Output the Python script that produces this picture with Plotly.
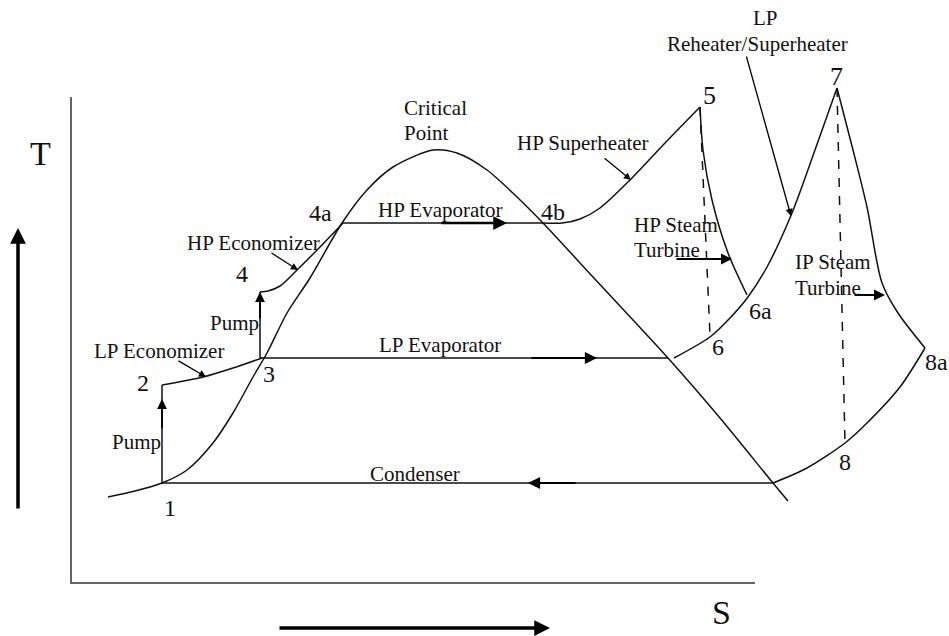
import plotly.graph_objects as go

# saturation dome (pixel-space T-S sketch, y grows downward)
dome_x = [108, 135, 162, 187, 213, 233, 253, 267, 287, 310, 342, 367, 393, 433, 457, 487, 517, 543, 593, 668, 720, 773, 788]
dome_y = [497, 491, 483, 470, 443, 413, 377, 353, 313, 278, 223, 190, 167, 150, 153, 170, 197, 223, 277, 358, 418, 483, 501]

# cycle segments
pump1_x, pump1_y = [162, 162], [483, 385]
lpecon_x, lpecon_y = [162, 203, 233, 262], [385, 377, 368, 358]
pump2_x, pump2_y = [260, 260], [358, 292]
hpecon_x, hpecon_y = [260, 268, 280, 297, 320, 343], [292, 291, 286, 270, 247, 223]
hpevap_x, hpevap_y = [343, 543], [223, 223]
hpsh_x = [543, 562, 580, 600, 630, 665, 700]
hpsh_y = [223, 223, 219, 208, 180, 143, 107]
hpt_x, hpt_y = [700, 703, 712, 728, 747], [107, 150, 200, 253, 295]
lpevap_x, lpevap_y = [260, 668], [358, 358]
reheat_x = [674, 710, 730, 748, 767, 792, 815, 837]
reheat_y = [358, 337, 318, 297, 267, 213, 150, 88]
ipt_x, ipt_y = [837, 853, 867, 882, 898, 925], [88, 150, 207, 283, 313, 348]
exh_x, exh_y = [925, 900, 867, 845, 807, 773], [348, 387, 423, 443, 468, 483]
cond_x, cond_y = [162, 773], [483, 483]
isen1_x, isen1_y = [700, 710], [107, 336]
isen2_x, isen2_y = [837, 845], [88, 443]
axis_x, axis_y = [71, 71, 755], [97, 583, 583]

# arrows: (tail x, tail y, head x, head y, width)
arrows = [
    (18, 510, 18, 228, 3.5),
    (278, 628, 550, 628, 3.5),
    (162, 430, 162, 399, 1.8),
    (260, 320, 260, 292, 1.8),
    (177, 360, 206, 377, 1.3),
    (270, 252, 298, 270, 1.3),
    (440, 223, 507, 223, 2.5),
    (530, 358, 597, 358, 2.2),
    (577, 483, 528, 483, 2.2),
    (603, 157, 631, 180, 1.3),
    (746, 55, 791, 216, 1.3),
    (675, 259, 732, 259, 2),
    (853, 295, 885, 295, 2),
]

# labels: (text, x, y, size, anchor)
labels = [
    ("T", 40, 153, 34, "center"),
    ("S", 721, 612, 34, "center"),
    ("Critical", 402, 108, 21, "left"),
    ("Point", 402, 133, 21, "left"),
    ("HP Superheater", 515, 143, 21, "left"),
    ("LP", 765, 18, 21, "center"),
    ("Reheater/Superheater", 665, 44, 21, "left"),
    ("5", 709, 95, 26, "center"),
    ("7", 836, 76, 26, "center"),
    ("HP Steam", 632, 225, 21, "left"),
    ("Turbine", 632, 250, 21, "left"),
    ("IP Steam", 793, 262, 21, "left"),
    ("Turbine", 793, 288, 21, "left"),
    ("6a", 760, 311, 24, "center"),
    ("6", 718, 347, 24, "center"),
    ("8a", 936, 362, 24, "center"),
    ("8", 845, 462, 24, "center"),
    ("4a", 320, 213, 24, "center"),
    ("4b", 553, 212, 24, "center"),
    ("HP Evaporator", 440, 210, 21, "center"),
    ("HP Economizer", 185, 243, 21, "left"),
    ("4", 242, 274, 24, "center"),
    ("Pump", 208, 323, 21, "left"),
    ("LP Economizer", 92, 351, 21, "left"),
    ("2", 143, 383, 24, "center"),
    ("3", 269, 374, 24, "center"),
    ("Pump", 110, 442, 21, "left"),
    ("1", 170, 508, 24, "center"),
    ("LP Evaporator", 440, 345, 21, "center"),
    ("Condenser", 415, 474, 21, "center"),
]

fig = go.Figure()

solid = [
    (dome_x, dome_y, "spline"), (pump1_x, pump1_y, "linear"), (lpecon_x, lpecon_y, "spline"),
    (pump2_x, pump2_y, "linear"), (hpecon_x, hpecon_y, "spline"), (hpevap_x, hpevap_y, "linear"),
    (hpsh_x, hpsh_y, "spline"), (hpt_x, hpt_y, "spline"), (lpevap_x, lpevap_y, "linear"),
    (reheat_x, reheat_y, "spline"), (ipt_x, ipt_y, "spline"), (exh_x, exh_y, "spline"),
    (cond_x, cond_y, "linear"),
]
for xs, ys, shape in solid:
    fig.add_trace(go.Scatter(x=xs, y=ys, mode="lines",
                             line=dict(color="#111", width=1.5, shape=shape, smoothing=0.8)))

for xs, ys in [(isen1_x, isen1_y), (isen2_x, isen2_y)]:
    fig.add_trace(go.Scatter(x=xs, y=ys, mode="lines",
                             line=dict(color="#111", width=1.5, dash="dash")))

fig.add_trace(go.Scatter(x=axis_x, y=axis_y, mode="lines", line=dict(color="#333", width=1.5)))

for tx, ty, hx, hy, w in arrows:
    fig.add_annotation(x=hx, y=hy, ax=tx, ay=ty, xref="x", yref="y", axref="x", ayref="y",
                       text="", showarrow=True, arrowhead=2, arrowsize=1.1 if w < 3 else 0.9,
                       arrowwidth=w, arrowcolor="black")

for text, x, y, size, anchor in labels:
    fig.add_annotation(x=x, y=y, text=text, showarrow=False, xanchor=anchor, yanchor="middle",
                       font=dict(family="Liberation Serif", size=size, color="#111"))

fig.update_layout(
    width=949, height=636,
    margin=dict(l=0, r=0, t=0, b=0),
    paper_bgcolor="white", plot_bgcolor="white",
    showlegend=False,
    xaxis=dict(range=[0, 949], visible=False, fixedrange=True),
    yaxis=dict(range=[636, 0], visible=False, fixedrange=True),
)

# drop the default page margin so the figure fills the window without scrollbars
fig.write_html("out.html", config={"displayModeBar": False},
               post_script="document.body.style.margin='0';document.body.style.overflow='hidden';")
